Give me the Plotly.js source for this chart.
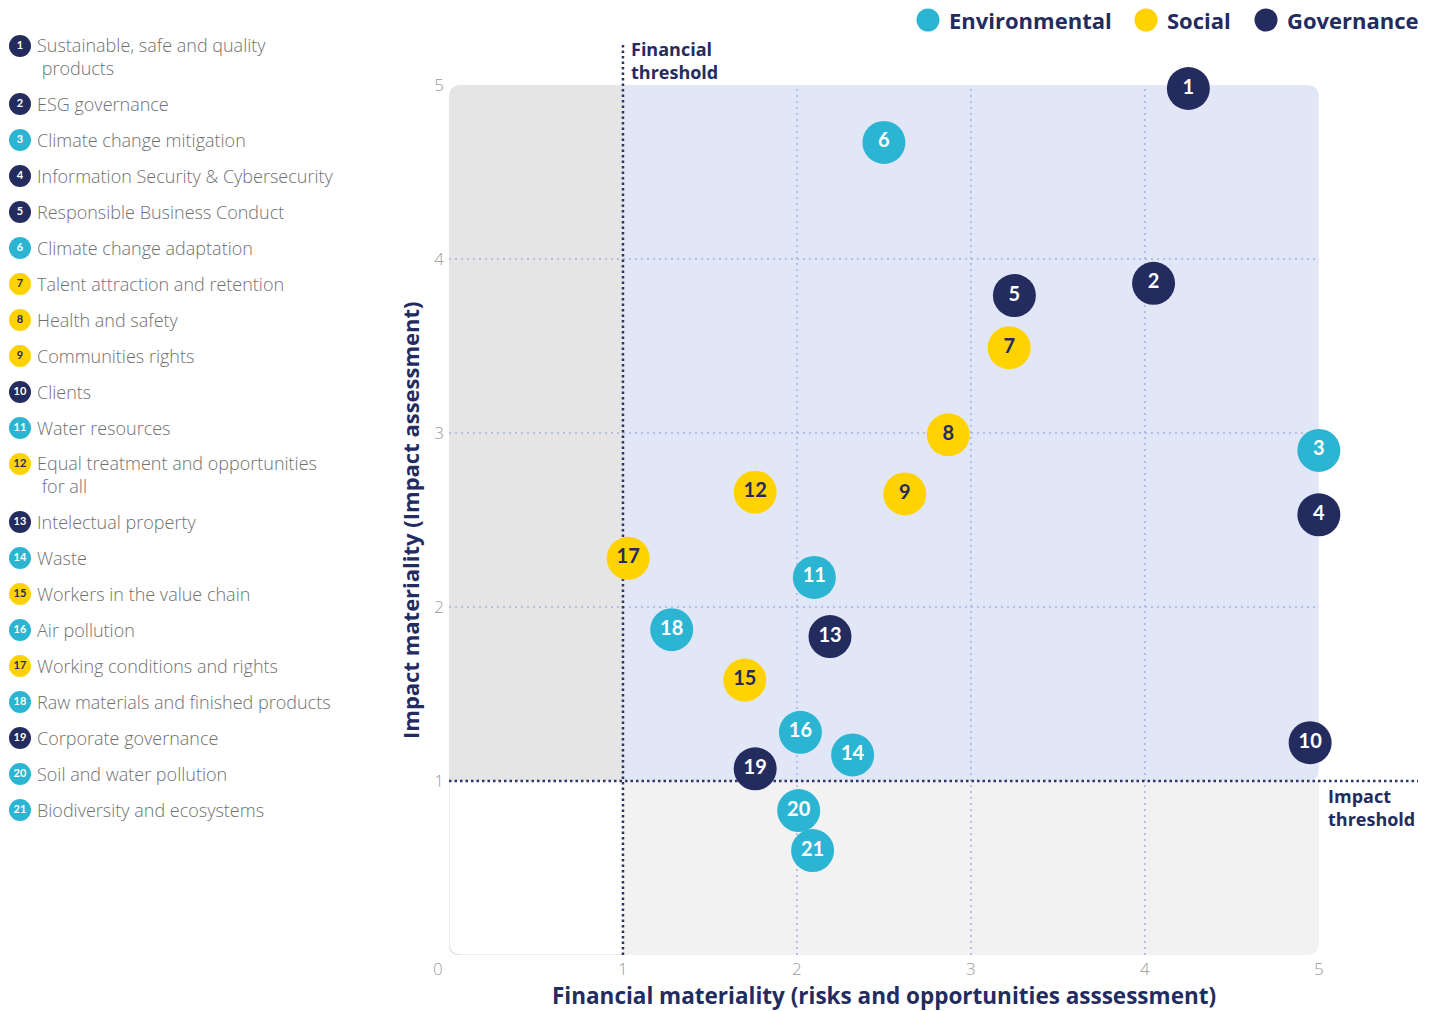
<!DOCTYPE html>
<html>
<head>
<meta charset="utf-8">
<script src="https://cdn.plot.ly/plotly-3.0.1.min.js"></script>
<style>
  html, body { margin: 0; padding: 0; background: #ffffff; }
  #chart { width: 1437px; height: 1011px; }
</style>
</head>
<body>
<div id="chart"></div>
<script>
// material topics
const topicIds = [1, 2, 3, 4, 5, 6, 7, 8, 9, 10, 11, 12, 13, 14, 15, 16, 17, 18, 19, 20, 21];
const topicNames = [
    'Sustainable, safe and quality<br> products',
    'ESG governance',
    'Climate change mitigation',
    'Information Security & Cybersecurity',
    'Responsible Business Conduct',
    'Climate change adaptation',
    'Talent attraction and retention',
    'Health and safety',
    'Communities rights',
    'Clients',
    'Water resources',
    'Equal treatment and opportunities<br> for all',
    'Intelectual property',
    'Waste',
    'Workers in the value chain',
    'Air pollution',
    'Working conditions and rights',
    'Raw materials and finished products',
    'Corporate governance',
    'Soil and water pollution',
    'Biodiversity and ecosystems'
];
const topicPillar = ['G', 'G', 'E', 'G', 'G', 'E', 'S', 'S', 'S', 'G', 'E', 'S', 'G', 'E', 'S', 'E', 'S', 'E', 'G', 'E', 'E'];
const financialScore = [4.25, 4.05, 5.00, 5.00, 3.25, 2.50, 3.22, 2.87, 2.62, 4.95, 2.10, 1.76, 2.19, 2.32, 1.70, 2.02, 1.03, 1.28, 1.76, 2.01, 2.09];
const impactScore = [4.98, 3.86, 2.90, 2.53, 3.79, 4.67, 3.49, 2.99, 2.65, 1.22, 2.17, 2.66, 1.83, 1.15, 1.58, 1.28, 2.28, 1.87, 1.07, 0.83, 0.60];

const pillarKeys = ['E', 'S', 'G'];
const pillarNames = ['Environmental', 'Social', 'Governance'];
const axisTicks = [1, 2, 3, 4, 5];
const gridVals = [2, 3, 4];
const financialThreshold = 1;
const impactThreshold = 1;

const NAVY = '#242b5e';
const pillarColor = {E: '#2cb5d3', S: '#ffd200', G: '#242b5e'};
const pillarText = {E: '#ffffff', S: NAVY, G: '#ffffff'};
const FONT = '"Open Sans", Lato, sans-serif';
const NUMFONT = 'Lato, "Open Sans", sans-serif';

// axes run a bit past 5 so the threshold lines can stick out of the panel
const xMax = 5.57, yMax = 5.23;
const r = 0.07; // corner radius in data units

// matrix points, one trace per pillar
const traces = pillarKeys.map((key, k) => {
    const idx = topicIds.map((_, i) => i).filter(i => topicPillar[i] === key);
    return {
        type: 'scatter',
        mode: 'markers+text',
        name: pillarNames[k],
        x: idx.map(i => financialScore[i]),
        y: idx.map(i => impactScore[i]),
        text: idx.map(i => String(topicIds[i])),
        textposition: 'middle center',
        textfont: {family: NUMFONT, size: 20, weight: 700, color: pillarText[key]},
        marker: {size: 43, color: pillarColor[key], line: {width: 0}},
        cliponaxis: false,
        showlegend: false,
        hoverinfo: 'skip'
    };
});

// left-hand list: rows get extra room when the label wraps
const rowY = [];
let extraLines = 0;
topicNames.forEach((name, i) => {
    rowY.push(46 + 36 * i + 22 * extraLines);
    if (name.indexOf('<br>') >= 0) extraLines++;
});

traces.push({
    type: 'scatter',
    mode: 'markers+text',
    xaxis: 'x2',
    yaxis: 'y2',
    x: topicIds.map(() => 20),
    y: rowY,
    text: topicIds.map(String),
    textposition: 'middle center',
    textfont: {family: NUMFONT, size: 11, weight: 700, color: topicPillar.map(p => pillarText[p])},
    marker: {size: 22, color: topicPillar.map(p => pillarColor[p])},
    showlegend: false,
    cliponaxis: false,
    hoverinfo: 'skip'
});

// pillar key, top right
const keyX = [928, 1146, 1266];
traces.push({
    type: 'scatter',
    mode: 'markers',
    xaxis: 'x2',
    yaxis: 'y2',
    x: keyX,
    y: pillarKeys.map(() => 20),
    marker: {size: 23, color: pillarKeys.map(p => pillarColor[p])},
    showlegend: false,
    cliponaxis: false,
    hoverinfo: 'skip'
});

const shapes = [
    // below threshold on both -> white with faint edge
    {type: 'path', xref: 'x', yref: 'y', layer: 'below',
     path: `M 0,${impactThreshold} L 0,${r} Q 0,0 ${r},0 L ${financialThreshold},0`,
     line: {color: '#e6e6e6', width: 1.5}},
    // top-left grey
    {type: 'path', xref: 'x', yref: 'y', layer: 'below',
     path: `M 0,${impactThreshold} L 0,${5 - r} Q 0,5 ${r},5 L ${financialThreshold},5 L ${financialThreshold},${impactThreshold} Z`,
     fillcolor: '#e5e5e5', line: {width: 0}},
    // material area
    {type: 'path', xref: 'x', yref: 'y', layer: 'below',
     path: `M ${financialThreshold},${impactThreshold} L ${financialThreshold},5 L ${5 - r},5 Q 5,5 5,${5 - r} L 5,${impactThreshold + r} Q 5,${impactThreshold} ${5 - r},${impactThreshold} Z`,
     fillcolor: '#e1e7f7', line: {width: 0}},
    // bottom light grey
    {type: 'path', xref: 'x', yref: 'y', layer: 'below',
     path: `M ${financialThreshold},0 L ${5 - r},0 Q 5,0 5,${r} L 5,${impactThreshold} L ${financialThreshold},${impactThreshold} Z`,
     fillcolor: '#f2f2f2', line: {width: 0}}
];
gridVals.forEach(v => {
    shapes.push({type: 'line', xref: 'x', yref: 'y', layer: 'below', x0: 0, x1: 5, y0: v, y1: v,
                 line: {color: '#a3b2e4', width: 1.5, dash: '2px,4px'}});
    shapes.push({type: 'line', xref: 'x', yref: 'y', layer: 'below', x0: v, x1: v, y0: 0, y1: 5,
                 line: {color: '#a3b2e4', width: 1.5, dash: '2px,4px'}});
});
shapes.push({type: 'line', xref: 'x', yref: 'y', layer: 'below', x0: financialThreshold, x1: financialThreshold, y0: 0, y1: yMax,
             line: {color: '#2e3566', width: 2.5, dash: '2.5px,3px'}});
shapes.push({type: 'line', xref: 'x', yref: 'y', layer: 'below', x0: 0, x1: xMax, y0: impactThreshold, y1: impactThreshold,
             line: {color: '#2e3566', width: 2.5, dash: '2.5px,3px'}});

const annotations = topicNames.map((name, i) => ({
    xref: 'x2', yref: 'y2', x: 35, y: rowY[i] + (name.indexOf('<br>') >= 0 ? 10.5 : 0),
    text: name, showarrow: false, xanchor: 'left', yanchor: 'middle', align: 'left',
    font: {family: FONT, size: 18, weight: 300, color: '#707070'}
}));
pillarNames.forEach((name, k) => annotations.push({
    xref: 'x2', yref: 'y2', x: keyX[k] + 19, y: 20, text: name, showarrow: false,
    xanchor: 'left', yanchor: 'middle',
    font: {family: FONT, size: 22, weight: 700, color: NAVY}
}));
annotations.push(
    {xref: 'x', yref: 'y', x: financialThreshold, y: 5.14, xshift: 6, text: 'Financial<br>threshold',
     showarrow: false, xanchor: 'left', yanchor: 'middle', align: 'left',
     font: {family: FONT, size: 18, weight: 700, color: NAVY}},
    {xref: 'x', yref: 'y', x: 5.04, y: 0.85, text: 'Impact<br>threshold',
     showarrow: false, xanchor: 'left', yanchor: 'middle', align: 'left',
     font: {family: FONT, size: 18, weight: 700, color: NAVY}},
    {xref: 'x', yref: 'y', x: 0, y: 0, xshift: -11, yshift: -13, text: '0', showarrow: false,
     font: {family: FONT, size: 17, weight: 300, color: '#999999'}},
    {xref: 'x', yref: 'paper', x: 2.5, y: 0.0158, yanchor: 'middle', showarrow: false,
     text: 'Financial materiality (risks and opportunities asssessment)',
     font: {family: FONT, size: 22.5, weight: 700, color: NAVY}},
    {xref: 'paper', yref: 'y', x: 0.2853, y: 2.5, xanchor: 'center', showarrow: false, textangle: -90,
     text: 'Impact materiality (Impact assessment)',
     font: {family: FONT, size: 22, weight: 700, color: NAVY}}
);

const layout = {
    width: 1437,
    height: 1011,
    margin: {l: 0, r: 0, t: 0, b: 0},
    paper_bgcolor: '#ffffff',
    plot_bgcolor: 'rgba(0,0,0,0)',
    font: {family: FONT},
    showlegend: false,
    xaxis: {
        domain: [449 / 1437, 1418 / 1437],
        range: [0, xMax], fixedrange: true,
        tickvals: axisTicks, showgrid: false, zeroline: false, showline: false, ticks: '',
        ticklabelstandoff: 2,
        tickfont: {family: FONT, size: 17, weight: 300, color: '#999999'}
    },
    yaxis: {
        domain: [1 - 955 / 1011, 1 - 45 / 1011],
        range: [0, yMax], fixedrange: true,
        tickvals: axisTicks, showgrid: false, zeroline: false, showline: false, ticks: '',
        ticklabelstandoff: 4,
        tickfont: {family: FONT, size: 17, weight: 300, color: '#999999'}
    },
    // helper axes in page pixels for the topic list and the pillar key
    xaxis2: {domain: [0, 1], range: [0, 1437], visible: false, fixedrange: true, anchor: 'y2'},
    yaxis2: {domain: [0, 1], range: [1011, 0], visible: false, fixedrange: true, anchor: 'x2'},
    shapes: shapes,
    annotations: annotations
};

Plotly.newPlot('chart', traces, layout, {displayModeBar: false, staticPlot: true});
</script>
</body>
</html>
